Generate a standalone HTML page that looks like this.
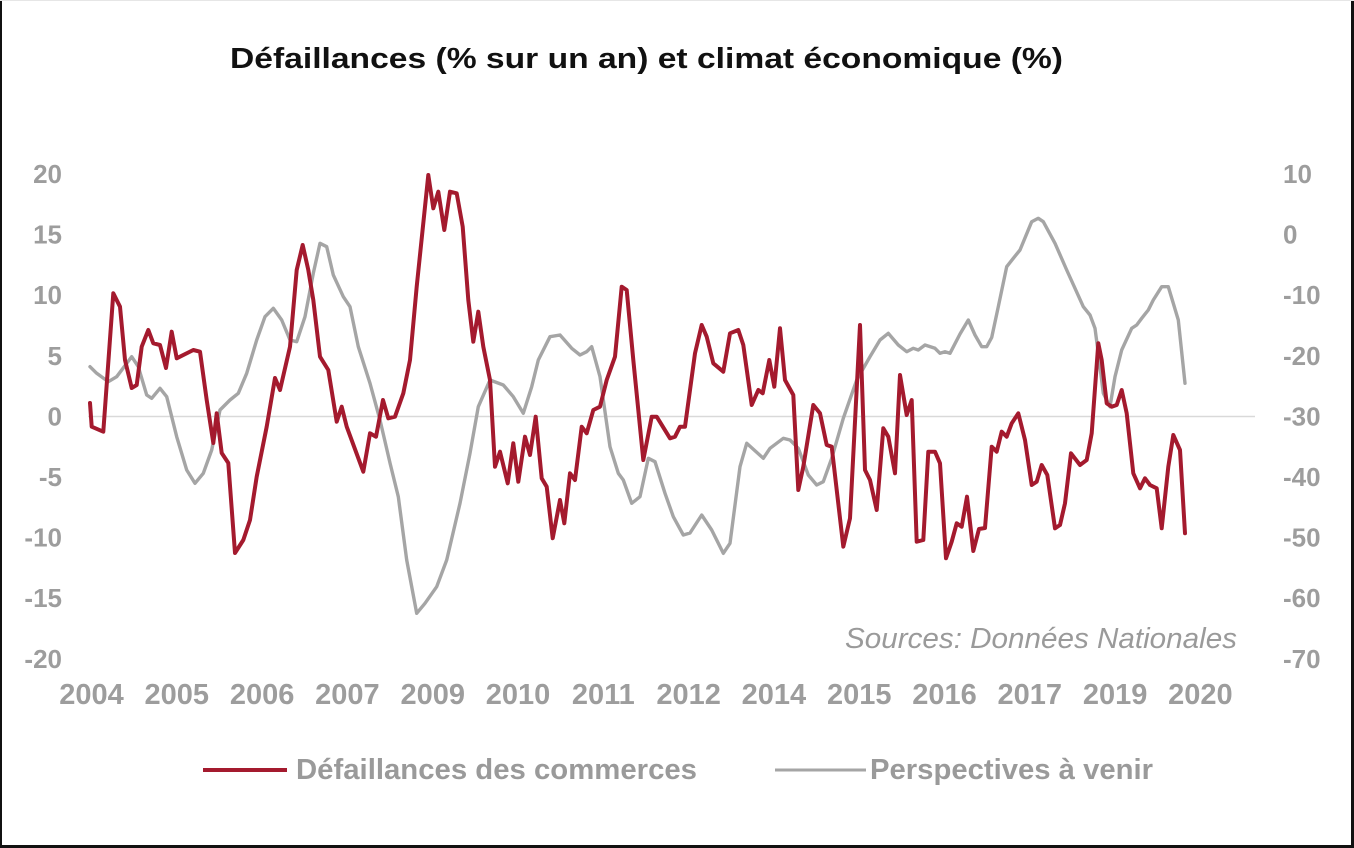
<!DOCTYPE html>
<html>
<head>
<meta charset="utf-8">
<style>
  html,body{margin:0;padding:0;background:#fff;}
  body{width:1354px;height:848px;overflow:hidden;}
  svg{display:block;}
  text{font-family:"Liberation Sans", Arial, sans-serif;}
</style>
</head>
<body>
<svg width="1354" height="848" viewBox="0 0 1354 848" xmlns="http://www.w3.org/2000/svg">
  <rect x="0" y="0" width="1354" height="848" fill="#ffffff"/>
  <!-- frame -->
  <rect x="0" y="0" width="2" height="848" fill="#111"/>
  <rect x="1351" y="0" width="3" height="848" fill="#111"/>
  <rect x="0" y="845" width="1354" height="3" fill="#111"/>
  <rect x="0" y="0" width="1354" height="1" fill="#e6e6e6"/>

  <!-- title -->
  <text x="230" y="68" font-size="29" font-weight="bold" fill="#111" textLength="833" lengthAdjust="spacingAndGlyphs">Défaillances (% sur un an) et climat économique (%)</text>

  <!-- zero line -->
  <line x1="88" y1="416.5" x2="1255" y2="416.5" stroke="#d9d9d9" stroke-width="1.5"/>

  <!-- left axis labels -->
  <g font-size="26" font-weight="bold" fill="#9d9d9d" text-anchor="end">
    <text x="62" y="183">20</text>
    <text x="62" y="243.6">15</text>
    <text x="62" y="304.2">10</text>
    <text x="62" y="364.8">5</text>
    <text x="62" y="425.4">0</text>
    <text x="62" y="486">-5</text>
    <text x="62" y="546.6">-10</text>
    <text x="62" y="607.2">-15</text>
    <text x="62" y="667.8">-20</text>
  </g>
  <!-- right axis labels -->
  <g font-size="26" font-weight="bold" fill="#9d9d9d" text-anchor="start">
    <text x="1283" y="183">10</text>
    <text x="1283" y="243.6">0</text>
    <text x="1283" y="304.2">-10</text>
    <text x="1283" y="364.8">-20</text>
    <text x="1283" y="425.4">-30</text>
    <text x="1283" y="486">-40</text>
    <text x="1283" y="546.6">-50</text>
    <text x="1283" y="607.2">-60</text>
    <text x="1283" y="667.8">-70</text>
  </g>

  <!-- x axis labels -->
  <g font-size="29" font-weight="bold" fill="#9d9d9d" text-anchor="middle">
    <text x="91.5" y="704">2004</text>
    <text x="176.8" y="704">2005</text>
    <text x="262.1" y="704">2006</text>
    <text x="347.4" y="704">2007</text>
    <text x="432.7" y="704">2009</text>
    <text x="518" y="704">2010</text>
    <text x="603.3" y="704">2011</text>
    <text x="688.6" y="704">2012</text>
    <text x="773.9" y="704">2014</text>
    <text x="859.2" y="704">2015</text>
    <text x="944.5" y="704">2016</text>
    <text x="1029.8" y="704">2017</text>
    <text x="1115.1" y="704">2019</text>
    <text x="1200.4" y="704">2020</text>
  </g>

  <!-- source -->
  <text x="845" y="648" font-size="29" font-style="italic" fill="#9a9a9a" textLength="392" lengthAdjust="spacingAndGlyphs">Sources: Données Nationales</text>

  <!-- gray series -->
  <polyline fill="none" stroke="#a5a5a5" stroke-width="3.4" stroke-linejoin="round" stroke-linecap="round" points="
90,366.7 96.7,373.3 108.3,381.7 116.7,376.7 131.7,356.7 138.3,366.7 146.7,395 151.7,398.3 160,388.3 166.7,396.7
176.7,436.7 186.7,470 195,483.3 203.3,473.3 211.7,450 220,410 230,400 238.3,393.3 246.7,373.3 256.7,340
265,316.7 273.3,308.3 281.7,320 290,340 296.7,341.7 305,316.7 313.3,273.3 320,243.3 326.7,246.7 333.3,275
343.3,296.7 350,306.7 358.3,346.7 370,383.3 380,420 390,463 398.3,496.7 406.7,560 416.7,613.3 425,603.3
436.7,586.7 446.7,560 460,503.3 470,453.3 478.3,406.7 490,380 503.3,385 513.3,396.7 523.3,413.3 531.7,386.7
538.3,360 550,336.7 560,335 571.7,348.3 580,355 586.7,351.7 591.7,346.7 600,376.7 610,446.7 618.3,473.3
623.3,480 631.7,503.3 640,496.7 648.3,458.3 655,461.7 665,493.3 673.3,516.7 683.3,535 690,533 701.7,515
711.7,530 723.3,553.3 730,543.3 740,466.7 746.7,443.3 763.3,458.3 770,448.3 783.3,438.3 790,440 798.3,448.3
808.3,475 816.7,485 823.3,481.7 831.7,458.3 843.3,418.3 856.7,380 870,356.7 880,340 888.3,333.3 898.3,345
906.7,351.7 913.3,348.3 918.3,350 925,345 935,348.3 940,353.3 945,351.7 950,353.3 960,334 968.3,320
975,335 981.7,346.7 986.7,346.7 991.7,337.5 998.3,306.7 1006.7,266.7 1013.3,258.3 1020,250 1031.7,221.7 1038.3,218.3
1043.3,221.7 1055,243.3 1066.7,270 1075,288.3 1083.3,306.7 1090,315 1095,328.3 1098.3,353.3 1103.3,393.3 1110,406.7
1115,376.7 1121.7,350 1131.7,328.3 1136.7,325 1141.7,318.3 1148.3,310 1153.3,300 1161.7,286.7 1168.3,286.7 1178.3,320
1185,383.3"/>

  <!-- red series -->
  <polyline fill="none" stroke="#a41a2e" stroke-width="4" stroke-linejoin="round" stroke-linecap="round" points="
90,403 91.7,426.7 103.3,431.7 113.3,293.3 120,306.7 125,360 131.7,388 136.7,385 141.7,346.7 148.3,330
153.3,343.3 160,345 166,368 171.7,331.7 176.7,358.3 193.3,350 200,351.7 206.7,400 213.3,443 216.7,413.3
221.7,453 228.3,463 235,553 243.3,540 250,520 256.7,476.7 266.7,426.7 275,378 280,390 290,346.7
296.7,270 302.7,245 308.3,270 313.3,300 320,356.7 328.3,370 336.7,421.7 341.7,406.7 346.7,426.7 363.3,471.7
370,433.3 376,436.7 383,400 388.3,418.3 395,416.7 403.3,393.3 410,360 416.7,286.7 428.3,175 433.3,208.3
438.3,191.7 444.3,230 450,191.7 456.7,193.3 462.7,226.7 468.3,300 473.3,341.7 478.3,311.7 483.3,346.7 490,380
495,466.7 500,451.7 507.7,483.3 513.3,443.3 518.3,481.7 525,436.7 530,455 535.7,416.7 541.7,478.3 546.7,486.7
552.7,538.3 560,500 564.3,523.3 570,473.3 575,480 581.7,426.7 586.7,433.3 593.3,410 600,406.7 606.7,380
615,356.7 621.7,286.7 626.7,290 633.3,360 643.3,460 651.7,416.7 656.7,416.7 670,438.3 675,436.7 680,426.7
685,426.7 695,353.3 701.7,325 706.7,336.7 713.3,363.3 723.3,371.7 730,333.3 738.3,330 743.3,345 751.7,405
758.3,390 762.7,393.3 769.3,360 774.3,386.7 780,328.3 785,380 793.3,395 798.3,490 803.3,466.7 813.3,405
820,413.3 826.7,445 831.7,446.7 843.3,546.7 850,518.3 860,325 865,470 870,480 876.7,510 883.3,428.3
888.3,436.7 895,473.3 900,375 906.7,415 911.7,400 916.7,541.7 923.3,540 928.3,451.7 935,451.7 940,463.3
946,558.3 951.7,541.7 956.7,523.3 961.7,526.7 967,496.7 973.3,551 979,529 985,528 991.7,446.7 996.7,451.7
1001.7,431.7 1006.7,436.7 1011.7,423.3 1018.3,413.3 1025,440 1031.7,485 1036.7,481.7 1041.7,465 1047.3,475 1055,528.3
1060,525 1065,503.3 1071,453.3 1080,465 1086.7,460 1091.7,433.3 1098.3,343.3 1101.7,360 1106.7,403.3 1111.7,406.7
1116.7,405 1121.7,390 1126.7,413.3 1133.3,473.3 1140,488.3 1145,478.3 1150,485 1156.7,488.3 1161.7,528.3 1168.3,466.7
1173.3,435 1180,450 1185,533.3"/>

  <!-- legend -->
  <line x1="203" y1="770" x2="287" y2="770" stroke="#a41a2e" stroke-width="4"/>
  <text x="296" y="779" font-size="29" font-weight="bold" fill="#9a9a9a" textLength="401" lengthAdjust="spacingAndGlyphs">Défaillances des commerces</text>
  <line x1="775" y1="770" x2="866" y2="770" stroke="#a5a5a5" stroke-width="3"/>
  <text x="870" y="779" font-size="29" font-weight="bold" fill="#9a9a9a" textLength="283" lengthAdjust="spacingAndGlyphs">Perspectives à venir</text>
</svg>
</body>
</html>
